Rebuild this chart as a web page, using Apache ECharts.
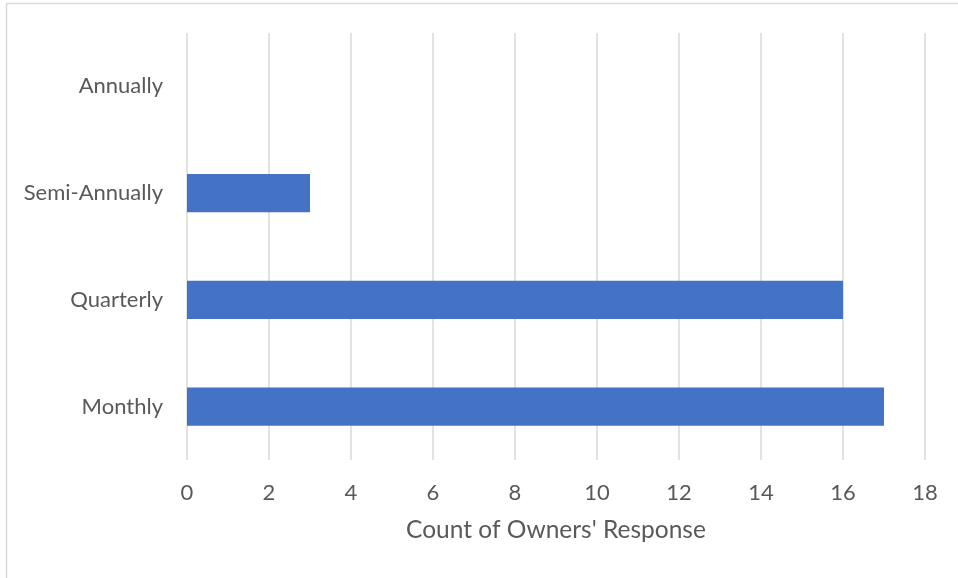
<!DOCTYPE html>
<html>
<head>
<meta charset="utf-8">
<script src="https://cdn.jsdelivr.net/npm/echarts@6/dist/echarts.min.js"></script>
<style>html,body{margin:0;padding:0;background:#fff}#c{width:958px;height:578px}</style>
</head>
<body>
<div id="c"></div>
<script>
const categories = ['Monthly', 'Quarterly', 'Semi-Annually', 'Annually'];
const counts = [17, 16, 3, 0];
const axisTitle = "Count of Owners' Response";

const chart = echarts.init(document.getElementById('c'), null, {renderer: 'canvas'});
const font = 'Lato, Open Sans, sans-serif';
chart.setOption({
  animation: false,
  backgroundColor: '#ffffff',
  graphic: [
    {type: 'line', shape: {x1: 6.5, y1: 3.5, x2: 958, y2: 3.5}, style: {stroke: '#d9d9d9', lineWidth: 1.5}},
    {type: 'line', shape: {x1: 6.5, y1: 3.5, x2: 6.5, y2: 578}, style: {stroke: '#d9d9d9', lineWidth: 1.5}}
  ],
  grid: {left: 187, right: 33, top: 33, bottom: 118, containLabel: false},
  xAxis: {
    type: 'value', min: 0, max: 18, interval: 2,
    axisLine: {show: false}, axisTick: {show: false},
    splitLine: {lineStyle: {color: '#d9d9d9', width: 1.5}},
    axisLabel: {color: '#595959', fontSize: 22, fontFamily: font, margin: 22},
    name: axisTitle, nameLocation: 'middle', nameGap: 58,
    nameTextStyle: {color: '#595959', fontSize: 24.5, fontFamily: font}
  },
  yAxis: {
    type: 'category', data: categories,
    axisLine: {show: false}, axisTick: {show: false},
    axisLabel: {color: '#595959', fontSize: 22, fontFamily: font, margin: 24}
  },
  series: [{
    type: 'bar', data: counts, barCategoryGap: '64%',
    itemStyle: {color: '#4472C4'}
  }]
});
</script>
</body>
</html>
